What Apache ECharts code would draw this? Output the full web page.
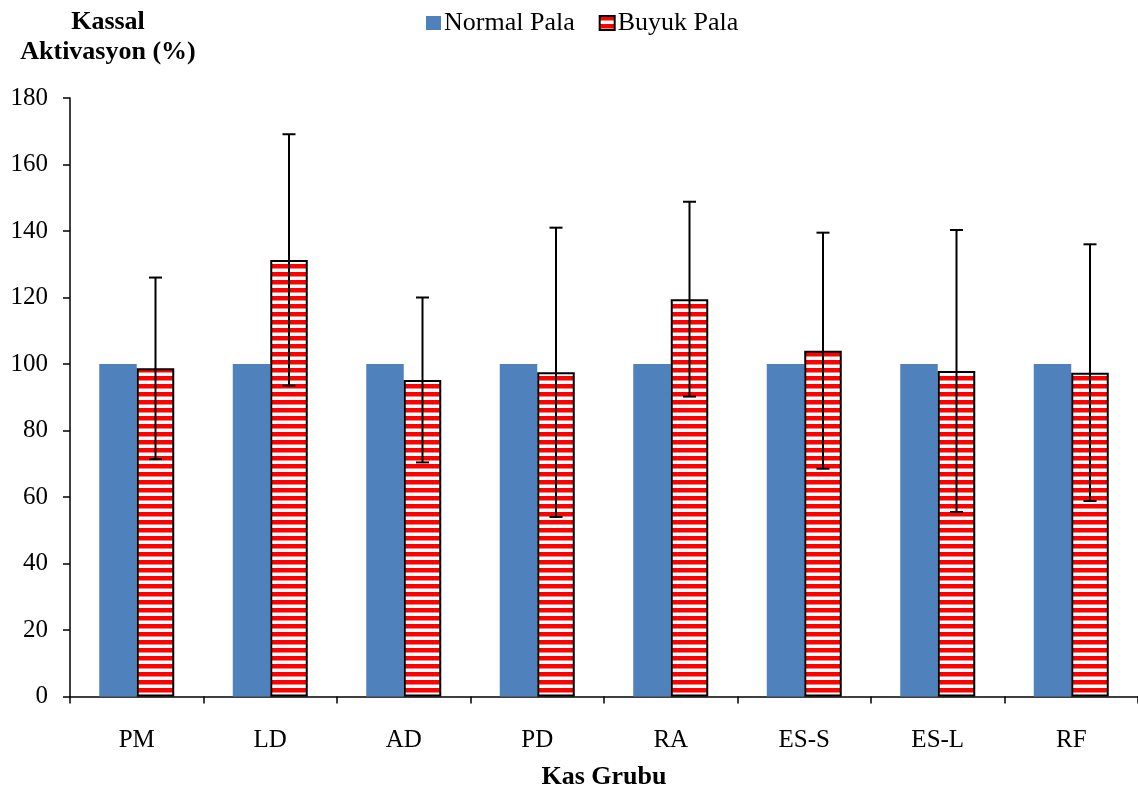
<!DOCTYPE html>
<html>
<head>
<meta charset="utf-8">
<script src="https://cdn.jsdelivr.net/npm/echarts@6/dist/echarts.min.js"></script>
<style>
  html, body { margin: 0; padding: 0; background: #fff; }
  #chart { width: 1138px; height: 792px; }
</style>
</head>
<body>
<div id="chart"></div>
<script>
var categories = ['PM', 'LD', 'AD', 'PD', 'RA', 'ES-S', 'ES-L', 'RF'];
var normalPala = [100, 100, 100, 100, 100, 100, 100, 100];
var buyukPala = [98.7, 131.3, 95.2, 97.5, 119.5, 104.0, 97.9, 97.4];
// standart sapma (hata çubukları)
var buyukSd = [27.3, 37.8, 24.8, 43.5, 29.3, 35.5, 42.4, 38.6];

var yTicks = { min: 0, max: 180, interval: 20 };
var barW = 37.5;
var font = '"Liberation Serif", "Times New Roman", serif';

// kırmızı-beyaz yatay çizgili desen
function stripePattern() {
  var c = document.createElement('canvas');
  c.width = 8; c.height = 8;
  var ctx = c.getContext('2d');
  ctx.fillStyle = '#ffffff';
  ctx.fillRect(0, 0, 8, 8);
  ctx.fillStyle = '#ff0000';
  ctx.fillRect(0, 0, 8, 4.5);
  return c;
}
var stripe = { image: stripePattern(), repeat: 'repeat' };

var errData = buyukPala.map(function (v, i) {
  return [i, v - buyukSd[i], v + buyukSd[i]];
});

var myChart = echarts.init(document.getElementById('chart'));
myChart.setOption({
  animation: false,
  textStyle: { fontFamily: font },
  title: {
    text: 'Kassal\nAktivasyon (%)',
    left: 103,
    top: 2,
    textAlign: 'center',
    textStyle: { fontFamily: font, fontWeight: 'bold', fontSize: 26, color: '#000', lineHeight: 30, align: 'center' }
  },
  legend: {
    top: 5,
    left: 421,
    itemWidth: 15,
    itemHeight: 14,
    itemGap: 24,
    icon: 'rect',
    textStyle: { fontFamily: font, fontSize: 26, color: '#000', padding: [0, 0, 0, -2] },
    data: ['Normal Pala', 'Buyuk Pala']
  },
  grid: { left: 70, right: 0, top: 98, bottom: 95.5, containLabel: false, outerBoundsMode: 'none' },
  xAxis: {
    type: 'category',
    data: categories,
    name: 'Kas Grubu',
    nameLocation: 'middle',
    nameGap: 68,
    nameTextStyle: { fontFamily: font, fontWeight: 'bold', fontSize: 26, color: '#000' },
    axisLine: { lineStyle: { color: '#000', width: 1.5 } },
    axisTick: { show: true, inside: false, length: 7, lineStyle: { color: '#000', width: 1.5 } },
    axisLabel: { fontFamily: font, fontSize: 25, color: '#000', margin: 31 }
  },
  yAxis: {
    type: 'value',
    min: yTicks.min,
    max: yTicks.max,
    interval: yTicks.interval,
    axisLine: { show: true, lineStyle: { color: '#000', width: 1.5 } },
    axisTick: { show: true, inside: false, length: 7, lineStyle: { color: '#000', width: 1.5 } },
    axisLabel: { fontFamily: font, fontSize: 25, color: '#000', margin: 22 },
    splitLine: { show: false }
  },
  series: [
    {
      name: 'Normal Pala',
      type: 'bar',
      data: normalPala,
      barWidth: barW,
      barGap: '0%',
      itemStyle: { color: '#4f81bd' }
    },
    {
      name: 'Buyuk Pala',
      type: 'bar',
      data: buyukPala,
      barWidth: barW,
      barGap: '0%',
      itemStyle: { color: stripe, borderColor: '#000', borderWidth: 2 }
    },
    {
      type: 'custom',
      name: 'hata',
      data: errData,
      z: 10,
      renderItem: function (params, api) {
        var i = api.value(0);
        var lo = api.coord([i, api.value(1)]);
        var hi = api.coord([i, api.value(2)]);
        var x = lo[0] + barW / 2;
        var cap = 6.5;
        var style = { stroke: '#000', lineWidth: 2 };
        return {
          type: 'group',
          children: [
            { type: 'line', shape: { x1: x, y1: hi[1], x2: x, y2: lo[1] }, style: style },
            { type: 'line', shape: { x1: x - cap, y1: hi[1], x2: x + cap, y2: hi[1] }, style: style },
            { type: 'line', shape: { x1: x - cap, y1: lo[1], x2: x + cap, y2: lo[1] }, style: style }
          ]
        };
      }
    }
  ]
});
window.onresize = function () {
  myChart.resize();
};
</script>
</body>
</html>
